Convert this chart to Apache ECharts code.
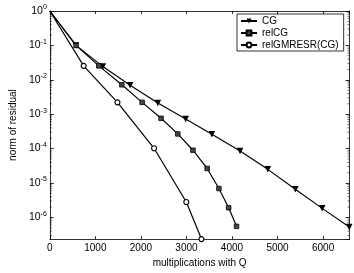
<!DOCTYPE html>
<html>
<head>
<meta charset="utf-8">
<script src="https://cdn.jsdelivr.net/npm/echarts@6/dist/echarts.min.js"></script>
<style>html,body{margin:0;padding:0;background:#fff}#c{width:354px;height:273px}</style>
</head>
<body>
<div id="c"></div>
<script>
var seriesNames = ['CG', 'relCG', 'relGMRESR(CG)'];
var cgX = [0, 576, 1165, 1763, 2373, 2984, 3559, 4177, 4787, 5390, 5981, 6576];
var cgY = [1, 0.1, 0.0242, 0.00689, 0.00212, 7.3e-4, 2.62e-4, 8.57e-5, 2.49e-5, 6.59e-6, 1.83e-6, 5.3e-7];
var relCgX = [0, 576, 1076, 1582, 2027, 2443, 2810, 3143, 3455, 3713, 3927, 4100];
var relCgY = [1, 0.1, 0.0254, 0.00716, 0.00221, 7.6e-4, 2.67e-4, 8.97e-5, 2.65e-5, 6.9e-6, 1.91e-6, 5.5e-7];
var gmX = [0, 743, 1486, 2289, 2997, 3330];
var gmY = [1, 0.0254, 0.00221, 1.02e-4, 2.8e-6, 2.34e-7];
var xTicks = [0, 1000, 2000, 3000, 4000, 5000, 6000];
var xMin = 0, xMax = 6580;
var yMin = 2.34e-7, yMax = 1;
var xName = 'multiplications with Q';
var yName = 'norm of residual';

function pairs(xs, ys) {
  return xs.map(function (x, i) { return [x, ys[i]]; });
}
function sizeFn(s) {
  return function (val, params) { return params && params.dataIndex === 0 ? 0 : s; };
}

var minorVals = [];
for (var k = -7; k < 0; k++) {
  for (var m = 2; m <= 9; m++) {
    var v = m * Math.pow(10, k);
    if (v > yMin && v < yMax) minorVals.push([xMin, v]);
  }
}

var font = 'Liberation Sans, Arial, sans-serif';
var black = '#000';

function yLabel(val) {
  var e = Math.round(Math.log10(val));
  if (Math.abs(Math.log10(val) - e) > 1e-6) return '';
  return '{b|10}{s|' + e + '}';
}

var chart = echarts.init(document.getElementById('c'), null, { renderer: 'canvas' });
chart.setOption({
  animation: false,
  backgroundColor: '#fff',
  textStyle: { fontFamily: font, color: black },
  grid: { left: 33.5, right: 4.5, top: 11, bottom: 24, containLabel: false },
  legend: {
    show: true,
    data: seriesNames,
    orient: 'vertical',
    left: 237,
    top: 14,
    padding: [2, 5, 1, 3],
    itemGap: 2,
    itemWidth: 16,
    itemHeight: 6,
    backgroundColor: '#fff',
    borderColor: black,
    borderWidth: 0.8,
    borderRadius: 0,
    textStyle: { fontFamily: font, fontSize: 10, lineHeight: 10, color: black }
  },
  xAxis: [{
    type: 'value', min: xMin, max: xMax, interval: 1000,
    name: xName, nameLocation: 'middle', nameGap: 17,
    nameTextStyle: { fontFamily: font, fontSize: 10, color: black },
    axisLine: { show: true, onZero: false, lineStyle: { color: black, width: 0.8 } },
    axisTick: { show: true, inside: true, length: 3, lineStyle: { color: black, width: 0.8 } },
    axisLabel: { fontFamily: font, fontSize: 10, color: black, margin: 4, showMaxLabel: false,
      formatter: function (v) { return String(v); } },
    splitLine: { show: false }
  }, {
    type: 'value', min: xMin, max: xMax, interval: 1000, position: 'top',
    axisLine: { show: true, onZero: false, lineStyle: { color: black, width: 0.8 } },
    axisTick: { show: true, inside: true, length: 3, lineStyle: { color: black, width: 0.8 } },
    axisLabel: { show: false },
    splitLine: { show: false }
  }],
  yAxis: [{
    type: 'log', logBase: 10, min: yMin, max: yMax, splitNumber: 7,
    name: yName, nameLocation: 'middle', nameGap: 25,
    nameTextStyle: { fontFamily: font, fontSize: 10, color: black },
    axisLine: { show: true, onZero: false, lineStyle: { color: black, width: 0.8 } },
    axisTick: { show: true, inside: true, length: 4, lineStyle: { color: black, width: 0.8 } },
    axisLabel: {
      margin: 3, formatter: yLabel, showMinLabel: false,
      rich: {
        b: { fontFamily: font, fontSize: 10.5, color: black },
        s: { fontFamily: font, fontSize: 7, color: black, verticalAlign: 'bottom', padding: [0, 0, 7, 0] }
      }
    },
    splitLine: { show: false }
  }, {
    type: 'log', logBase: 10, min: yMin, max: yMax, splitNumber: 7, position: 'right',
    axisLine: { show: true, onZero: false, lineStyle: { color: black, width: 0.8 } },
    axisTick: { show: true, inside: true, length: 4, lineStyle: { color: black, width: 0.8 } },
    axisLabel: { show: false },
    splitLine: { show: false }
  }],
  series: [{
    name: seriesNames[0], type: 'line', data: pairs(cgX, cgY),
    symbol: 'triangle', symbolRotate: 180, symbolSize: sizeFn(6.5), showAllSymbol: true,
    lineStyle: { color: black, width: 1.2 },
    itemStyle: { color: black, borderColor: black, borderWidth: 0 },
    clip: false, z: 3
  }, {
    name: seriesNames[1], type: 'line', data: pairs(relCgX, relCgY),
    symbol: 'rect', symbolSize: sizeFn(4.5), showAllSymbol: true,
    lineStyle: { color: black, width: 1.2 },
    itemStyle: { color: '#444', borderColor: black, borderWidth: 0.8 },
    clip: false, z: 3
  }, {
    name: seriesNames[2], type: 'line', data: pairs(gmX, gmY),
    symbol: 'circle', symbolSize: sizeFn(5), showAllSymbol: true,
    lineStyle: { color: black, width: 1.2 },
    itemStyle: { color: '#fff', borderColor: black, borderWidth: 1.1 },
    clip: false, z: 3
  }, {
    type: 'custom', silent: true, z: 2,
    data: minorVals,
    renderItem: function (params, api) {
      var v = api.value(1);
      var l = api.coord([xMin, v]);
      var r = api.coord([xMax, v]);
      var st = { stroke: black, lineWidth: 0.6 };
      return {
        type: 'group', children: [
          { type: 'line', shape: { x1: l[0], y1: l[1], x2: l[0] + 2, y2: l[1] }, style: st },
          { type: 'line', shape: { x1: r[0], y1: r[1], x2: r[0] - 2, y2: r[1] }, style: st }
        ]
      };
    }
  }]
});
</script>
</body>
</html>
